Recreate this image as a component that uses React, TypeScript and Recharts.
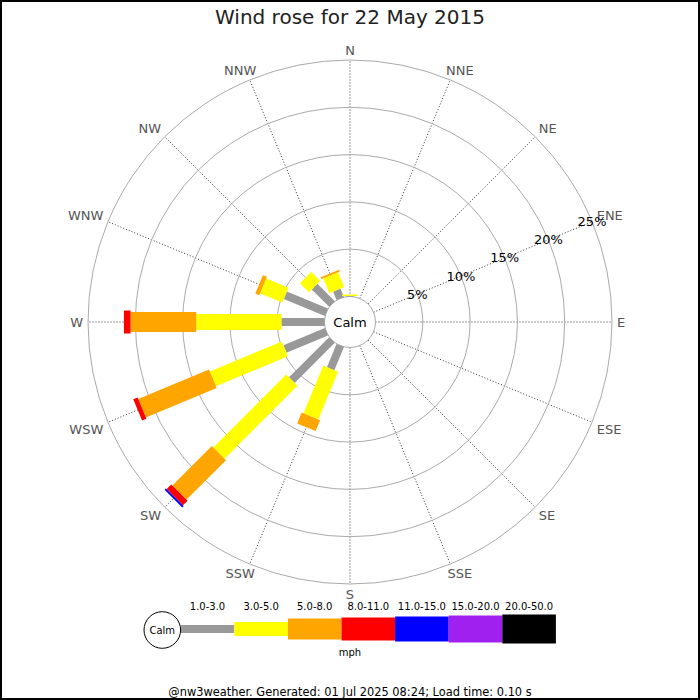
import { RadarChart, PolarGrid, PolarAngleAxis, PolarRadiusAxis, Radar } from 'recharts'

const directions = ['N', 'NNE', 'NE', 'ENE', 'E', 'ESE', 'SE', 'SSE', 'S', 'SSW', 'SW', 'WSW', 'W', 'WNW', 'NW', 'NNW']

// % of the day from each direction, one list per speed band (mph)
const speed1to3 = [0.05, 0, 0, 0, 0, 0, 0, 0, 0, 2.65, 6.0, 4.75, 4.55, 4.7, 2.6, 0.95]
const speed3to5 = [0.15, 0, 0, 0, 0, 0, 0, 0, 0, 5.45, 10.9, 8.25, 9.0, 2.55, 1.35, 1.7]
const speed5to8 = [0, 0, 0, 0, 0, 0, 0, 0, 0, 1.25, 5.9, 8.1, 6.95, 0.45, 0, 0.2]
const speed8to11 = [0, 0, 0, 0, 0, 0, 0, 0, 0, 0, 0.7, 0.5, 0.7, 0, 0, 0]
const speed11to15 = [0, 0, 0, 0, 0, 0, 0, 0, 0, 0, 0.2, 0, 0, 0, 0, 0]
const speed15to20 = [0, 0, 0, 0, 0, 0, 0, 0, 0, 0, 0, 0, 0, 0, 0, 0]
const speed20to50 = [0, 0, 0, 0, 0, 0, 0, 0, 0, 0, 0, 0, 0, 0, 0, 0]

const bandLabels = ['1.0-3.0', '3.0-5.0', '5.0-8.0', '8.0-11.0', '11.0-15.0', '15.0-20.0', '20.0-50.0']
const radiusTicks = [0, 5, 10, 15, 20, 25]

const bandColors = ['#999999', '#ffff00', '#ffa500', '#ff0000', '#0000ff', '#a020f0', '#000000']
const bandWidths = [8, 16, 20, 23, 25, 27, 29]
const legendHeights = [8, 14, 21, 23, 25, 27, 29]

const bands = [speed1to3, speed3to5, speed5to8, speed8to11, speed11to15, speed15to20, speed20to50]

const CX = 350
const CY = 322
const LABEL_R = 267

// stacked [start, end] ranges per band
const chartData = directions.map((dir, i) => {
  const row: any = { dir }
  let base = 0
  bands.forEach((vals, k) => {
    row['b' + k] = [base, base + vals[i]]
    base += vals[i]
  })
  return row
})

const makeBarShape = (k: number) => (props: any) => {
  const points = props.points || []
  const baseLinePoints = props.baseLinePoints || []
  const half = bandWidths[k] / 2
  return (
    <g>
      {points.map((p: any, i: number) => {
        const b = baseLinePoints[i]
        if (!b || p.radius - b.radius < 0.05) return null
        const ux = (p.x - p.cx) / p.radius
        const uy = (p.y - p.cy) / p.radius
        const nx = -uy * half
        const ny = ux * half
        const pts = [
          [b.x + nx, b.y + ny],
          [p.x + nx, p.y + ny],
          [p.x - nx, p.y - ny],
          [b.x - nx, b.y - ny],
        ]
        return <polygon key={i} points={pts.map((q) => q.join(',')).join(' ')} fill={bandColors[k]} />
      })}
    </g>
  )
}

// direction labels: anchored on the side facing the centre
const AngleTick = (props: any) => {
  const dx = props.x - CX
  const dy = props.y - CY
  const d = Math.hypot(dx, dy) || 1
  const ux = dx / d
  const uy = dy / d
  let x = CX + ux * LABEL_R
  const y = CY + uy * LABEL_R
  let anchor = ux > 0.01 ? 'start' : ux < -0.01 ? 'end' : 'middle'
  if (Math.abs(ux) < 0.5) {
    anchor = 'middle'
    x += ux * 20
  }
  const baseY = uy < -0.01 ? y : uy > 0.01 ? y + 9.5 : y + 4.7
  return (
    <text x={x} y={baseY} textAnchor={anchor} fontSize={13} fill="#555">
      {props.payload.value}
    </text>
  )
}

const RadiusTick = (props: any) =>
  props.payload.value === 0 ? null : (
    <text x={props.x} y={props.y} textAnchor="middle" dominantBaseline="central" fontSize={13} fill="#000">
      {props.payload.value + '%'}
    </text>
  )

export default function App() {
  const legendX = 180.7
  const legendStep = 53.6
  const legendY = 629
  return (
    <div
      style={{
        position: 'absolute',
        left: 0,
        top: 0,
        width: 700,
        height: 700,
        background: '#fff',
        fontFamily: '"DejaVu Sans", sans-serif',
      }}
    >
      <RadarChart
        width={700}
        height={700}
        data={chartData}
        cx={CX}
        cy={CY}
        innerRadius={25.5}
        outerRadius={262}
        margin={{ top: 0, right: 0, bottom: 0, left: 0 }}
      >
        <PolarGrid gridType="circle" polarRadius={[]} stroke="#333" strokeDasharray="1 2" />
        <PolarGrid gridType="circle" radialLines={false} stroke="#aaaaaa" />
        <PolarAngleAxis dataKey="dir" tickSize={11} tickLine={false} axisLine={false} tick={AngleTick} />
        <PolarRadiusAxis
          angle={22.5}
          type="number"
          domain={[0, 25]}
          ticks={radiusTicks}
          tickCount={6}
          allowDataOverflow
          axisLine={false}
          tickLine={false}
          tick={RadiusTick}
        />
        {bands.map((_, k) => (
          <Radar key={k} dataKey={'b' + k} isAnimationActive={false} dot={false} shape={makeBarShape(k)} />
        ))}
      </RadarChart>
      <svg width={700} height={700} style={{ position: 'absolute', left: 0, top: 0, pointerEvents: 'none' }}>
        <text x={350} y={24} textAnchor="middle" fontSize={20} fill="#222">
          Wind rose for 22 May 2015
        </text>
        <text x={350} y={327} textAnchor="middle" fontSize={13} fill="#000">
          Calm
        </text>
        {bandLabels.map((label, k) => (
          <g key={k}>
            <rect
              x={legendX + k * legendStep}
              y={legendY - legendHeights[k] / 2}
              width={legendStep}
              height={legendHeights[k]}
              fill={bandColors[k]}
            />
            <text x={legendX + (k + 0.5) * legendStep} y={610} textAnchor="middle" fontSize={10} fill="#000">
              {label}
            </text>
          </g>
        ))}
        <circle cx={162.3} cy={630} r={18.3} fill="#fff" stroke="#000" />
        <text x={162.3} y={633.5} textAnchor="middle" fontSize={10} fill="#000">
          Calm
        </text>
        <text x={350} y={656} textAnchor="middle" fontSize={10} fill="#000">
          mph
        </text>
        <text x={350} y={696} textAnchor="middle" fontSize={11.4} fill="#000">
          @nw3weather. Generated: 01 Jul 2025 08:24; Load time: 0.10 s
        </text>
      </svg>
      <div
        style={{
          position: 'absolute',
          left: 0,
          top: 0,
          width: 700,
          height: 700,
          border: '2px solid #000',
          boxSizing: 'border-box',
          pointerEvents: 'none',
        }}
      />
    </div>
  )
}
